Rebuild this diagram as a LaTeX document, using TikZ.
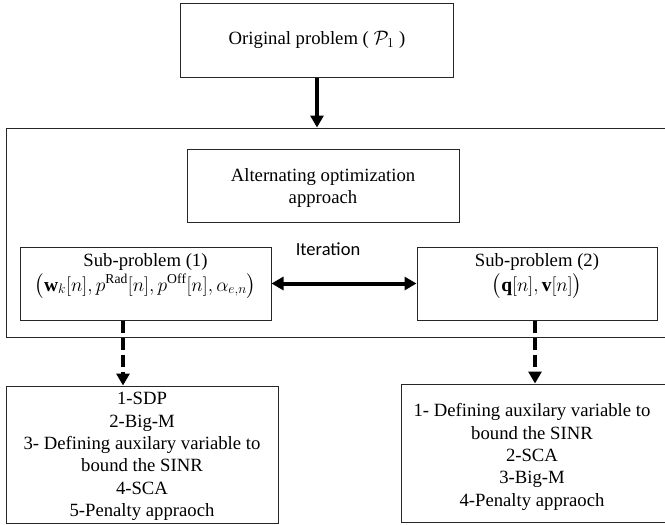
\RequirePackage{fix-cm}
\documentclass[tikz,border=0pt]{standalone}
\usepackage{amsmath}
\usepackage{fontspec}
\setmainfont{Liberation Serif}
\newfontfamily\serifbox{Liberation Serif}
\newfontfamily\iterfont{Carlito}
\usetikzlibrary{arrows.meta}
\newcommand{\txtsize}{\fontsize{18.7}{22.4}\selectfont}
\newcommand{\mathsz}{\fontsize{19.5}{20}\selectfont}
\tikzset{
  box/.style={draw=black!85, line width=1pt, inner sep=0pt},
  label text/.style={inner sep=0pt, align=center, font=\serifbox\txtsize},
  bigarrow/.style={line width=4pt, -{Triangle[length=12pt,width=13pt]}},
  dblarrow/.style={line width=4pt, {Triangle[length=12pt,width=13pt]}-{Triangle[length=12pt,width=13pt]}},
  dasharrow/.style={line width=4pt, dash pattern=on 12pt off 5pt, -{Triangle[length=12pt,width=13pt]}},
}
\begin{document}
\begin{tikzpicture}[x=1pt,y=-1pt]
\useasboundingbox (0,0) rectangle (665,525);
% outer frame
\node[box, minimum width=662, minimum height=209] (outer) at (337,232.5) {};
\node[box, minimum width=273, minimum height=74] (top) at (317,40) {};
\node[label text] (topt) at (317,40) {Original problem ( {\mathsz$\mathcal{P}_1$} )};
\node[box, minimum width=272, minimum height=73] (alt) at (323,185.5) {};
\node[label text] (altt) at (323,188) {Alternating optimization\\approach};
\node[box, minimum width=251, minimum height=73] (sub1) at (145.5,283.5) {};
\node[label text, anchor=base] (sub1a) at (145.5,266.5) {Sub-problem (1)};
\node[label text, anchor=base] (sub1b) at (145.5,291)
  {\mathsz$\bigl(\mathbf{w}_k[n],p^{\mathrm{Rad}}[n],p^{\mathrm{Off}}[n],\alpha_{e,n}\bigr)$};
\node[box, minimum width=240, minimum height=73] (sub2) at (537,283.5) {};
\node[label text, anchor=base] (sub2a) at (537,266.5) {Sub-problem (2)};
\node[label text, anchor=base] (sub2b) at (537,291)
  {\mathsz$\bigl(\mathbf{q}[n],\mathbf{v}[n]\bigr)$};
\node[font=\iterfont\fontsize{18.5}{22}\selectfont, inner sep=0pt] (iter) at (328,249) {Iteration};
\node[box, minimum width=272, minimum height=137] (bl) at (142,454.5) {};
\node[label text] (blt) at (142,456.5)
  {1-SDP\\2-Big-M\\3- Defining auxilary variable to\\bound the SINR\\4-SCA\\5-Penalty appraoch};
\node[box, minimum width=265, minimum height=138] (br) at (533.5,453) {};
\node[label text] (brt) at (532,457)
  {1- Defining auxilary variable to\\bound the SINR\\2-SCA\\3-Big-M\\4-Penalty appraoch};
\coordinate (d1) at (123,0);
\coordinate (d2) at (535,0);
\draw[bigarrow] (top.south) -- (top.south |- outer.north);
\draw[dblarrow] (sub1.east) -- (sub2.west);
\draw[dasharrow] (sub1.south -| d1) -- (bl.north -| d1);
\draw[dasharrow] (sub2.south -| d2) -- (br.north -| d2);
\end{tikzpicture}
\end{document}
